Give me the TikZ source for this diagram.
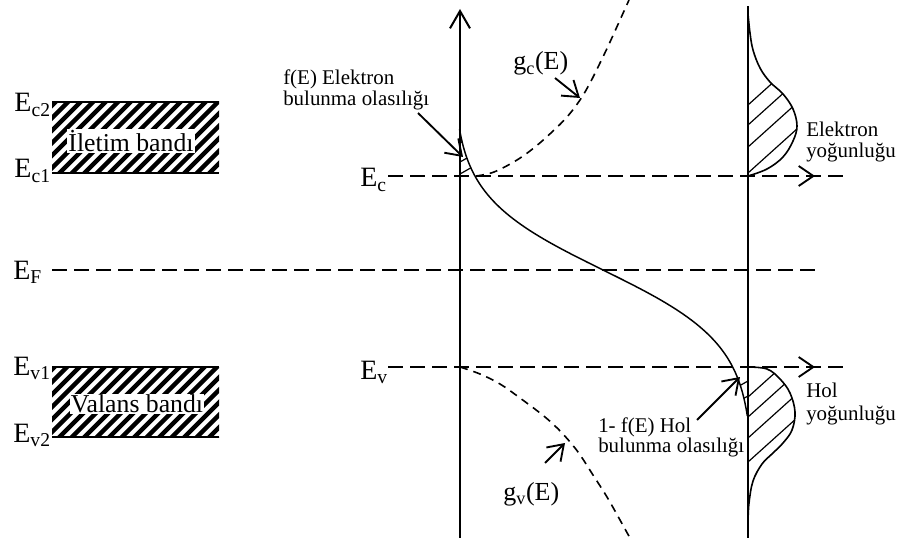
\documentclass[tikz,border=0pt]{standalone}
\usepackage{fontspec}
\setmainfont{Liberation Serif}
\usetikzlibrary{arrows.meta}
\begin{document}
\begin{tikzpicture}[x=0.75pt,y=-0.75pt,
  axis/.style={line width=1.5pt},
  elev/.style={line width=1.4pt, dash pattern=on 11pt off 5.5pt},
  gdash/.style={line width=1.2pt, dash pattern=on 6pt off 4.5pt},
  fcurve/.style={line width=1.1pt},
  dens/.style={line width=1.2pt},
  hatch/.style={line width=0.9pt},
  labarrow/.style={line width=1.4pt, -{Straight Barb[length=11pt,width=15pt]}},
  biglab/.style={inner sep=0pt, font=\fontsize{21}{24}\selectfont},
  glab/.style={inner sep=0pt, font=\fontsize{19.5}{23}\selectfont},
  smalllab/.style={inner sep=0pt, font=\fontsize{15.7}{19}\selectfont},
  bandtext/.style={fill=white, inner sep=1pt, font=\fontsize{19.3}{23}\selectfont},
  stripe/.style={line width=3.2pt},
  bandedge/.style={line width=1.8pt}]
\useasboundingbox (0,0) rectangle (899,538);

% ---------- conduction band ----------
\begin{scope}
  \clip (52,102) rectangle (219,173);
  \foreach \k in {-7,...,15} \draw[stripe] (40+12.5*\k,180) -- ++(90,-90);
\end{scope}
\coordinate (c2L) at (52,102); \coordinate (c2R) at (219,102);
\coordinate (c1L) at (52,173); \coordinate (c1R) at (219,173);
\draw[bandedge] (c2L) -- (c2R);
\draw[bandedge] (c1L) -- (c1R);
\node[bandtext] (iletim) at (131,141) {İletim bandı};

% ---------- valence band ----------
\begin{scope}
  \clip (52,367) rectangle (219,437);
  \foreach \k in {-7,...,15} \draw[stripe] (40+12.5*\k,444) -- ++(90,-90);
\end{scope}
\coordinate (v1L) at (52,367); \coordinate (v1R) at (219,367);
\coordinate (v2L) at (52,437); \coordinate (v2R) at (219,437);
\draw[bandedge] (v1L) -- (v1R);
\draw[bandedge] (v2L) -- (v2R);
\node[bandtext] (valans) at (137,404) {Valans bandı};

% ---------- level labels ----------
\node[biglab, anchor=base east] (Ec2) at (51,112) {E\textsubscript{c2}};
\node[biglab, anchor=base east] (Ec1) at (51,178) {E\textsubscript{c1}};
\node[biglab, anchor=base east] (Ev1) at (51,375) {E\textsubscript{v1}};
\node[biglab, anchor=base east] (Ev2) at (51,442) {E\textsubscript{v2}};
\node[biglab, anchor=base west] (EF) at (13,279) {E\textsubscript{F}};
\node[biglab, anchor=base west] (Ec) at (360,187) {E\textsubscript{c}};
\node[biglab, anchor=base west] (Ev) at (360,379) {E\textsubscript{v}};

% ---------- dashed energy levels ----------
\coordinate (EFa) at (52,270);  \coordinate (EFb) at (816,270);
\coordinate (Eca) at (388,176); \coordinate (Ecb) at (843,176);
\coordinate (Eva) at (388,367); \coordinate (Evb) at (843,367);
\draw[elev] (EFa) -- (EFb);
\draw[elev] (Eca) -- (Ecb);
\draw[elev] (Eva) -- (Evb);

% ---------- axes ----------
\coordinate (ax1b) at (460,538); \coordinate (ax1t) at (460,9);
\coordinate (ax2b) at (748,538); \coordinate (ax2t) at (748,6);
\draw[axis, -{Straight Barb[length=13pt,width=15pt]}] (ax1b) -- (ax1t);
\draw[axis] (ax2b) -- (ax2t);

% ---------- Fermi function ----------
\draw[fcurve] plot[domain=129:416, samples=100, variable=\t] ({603+150*tanh((\t-270)/74)},\t);
\begin{scope}
  \clip (460,129) -- plot[domain=129:176, samples=30, variable=\t] ({603+150*tanh((\t-270)/74)},\t) -- (460,176) -- cycle;
  \foreach \b in {143,162,174} \draw[hatch] (460,\b) -- ++(30,-17);
\end{scope}
\begin{scope}
  \clip plot[domain=367:416, samples=30, variable=\t] ({603+150*tanh((\t-270)/74)},\t) -- (748,416) -- (748,367) -- cycle;
  \foreach \b in {381,396,410} \draw[hatch] (748,\b) -- ++(-25,14);
\end{scope}

% ---------- density of states ----------
\draw[gdash] plot[smooth, tension=0.6] coordinates {(476,176) (494,172) (517,160) (535,147) (552,132) (567,117) (580,100) (590,83) (600,63) (610,42) (629,0)};
\draw[gdash] plot[smooth, tension=0.6] coordinates {(460,367) (480,374) (500,384) (520,398) (545,417) (562,433) (578,452) (593,475) (607,497) (620,520) (630,538)};

% ---------- electron density ----------
\draw[dens] plot[smooth, tension=0.6] coordinates {(748,176) (767,169) (783,157) (793,141) (797,126) (793,109) (783,94) (770,82) (760,68) (753,50) (750,33) (748,14)};
\begin{scope}
  \clip plot[smooth, tension=0.6] coordinates {(748,176) (767,169) (783,157) (793,141) (797,126) (793,109) (783,94) (770,82) (760,68) (753,50) (750,33) (748,14)} -- cycle;
  \foreach \b in {105,125,147,173} \draw[hatch] (748,\b) -- ++(70,-63);
\end{scope}

% ---------- hole density ----------
\draw[dens] plot[smooth, tension=0.6] coordinates {(748,367) (767,369) (780,379) (790,393) (795,412) (792,430) (783,443) (773,453) (762,464) (753,481) (749,503) (748,522)};
\begin{scope}
  \clip plot[smooth, tension=0.6] coordinates {(748,367) (767,369) (780,379) (790,393) (795,412) (792,430) (783,443) (773,453) (762,464) (753,481) (749,503) (748,522)} -- cycle;
  \foreach \b in {397,417,438,462} \draw[hatch] (748,\b) -- ++(70,-63);
\end{scope}

% ---------- labels ----------
\node[smalllab, anchor=base west] (fE1) at (283,85) {f(E) Elektron};
\node[smalllab, anchor=base west] (fE2) at (283,106) {bulunma olasılığı};
\node[glab, anchor=base west] (gc) at (513,70) {g\textsubscript{c}(E)};
\node[glab, anchor=base west] (gv) at (503,500) {g\textsubscript{v}(E)};
\node[smalllab, anchor=base west] (n1) at (806,137) {Elektron};
\node[smalllab, anchor=base west] (n2) at (806,158) {yoğunluğu};
\node[smalllab, anchor=base west] (p1) at (806,397) {Hol};
\node[smalllab, anchor=base west] (p2) at (806,420) {yoğunluğu};
\node[smalllab, anchor=base west] (h1) at (598,432) {1- f(E) Hol};
\node[smalllab, anchor=base west] (h2) at (598,452) {bulunma olasılığı};

% ---------- label arrows ----------
\coordinate (fEs) at (418,113); \coordinate (fEt) at (463,157);
\coordinate (gcs) at (555,78);  \coordinate (gct) at (580,98);
\coordinate (gvs) at (545,463); \coordinate (gvt) at (565,443);
\coordinate (hfs) at (697,420); \coordinate (hft) at (740,377);
\coordinate (nA) at (811,176);  \coordinate (nT) at (815,176);
\coordinate (pA) at (811,367);  \coordinate (pT) at (815,367);
\draw[labarrow] (fEs) -- (fEt);
\draw[labarrow] (gcs) -- (gct);
\draw[labarrow] (gvs) -- (gvt);
\draw[labarrow] (hfs) -- (hft);
\draw[labarrow] (nA) -- (nT);
\draw[labarrow] (pA) -- (pT);
\end{tikzpicture}
\end{document}
